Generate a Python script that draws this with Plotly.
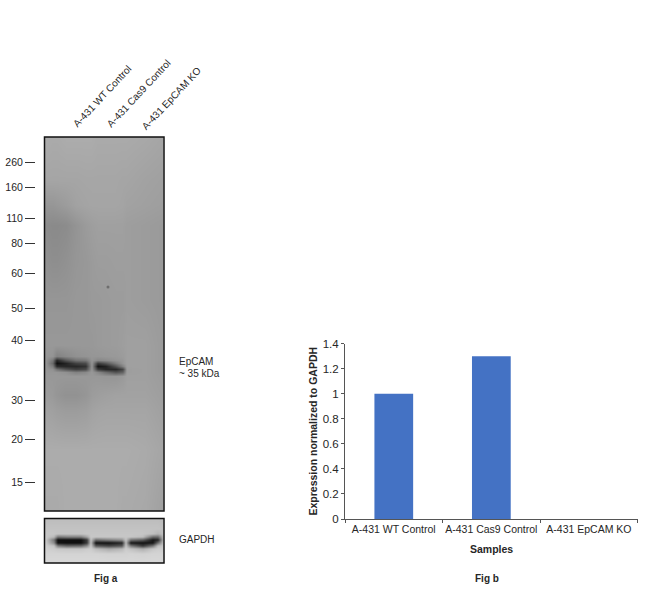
import plotly.graph_objects as go

W, H = 650, 590
FONT = "Liberation Sans"
TXT = "#262626"

# Fig b
samples = ["A-431 WT Control", "A-431 Cas9 Control", "A-431 EpCAM KO"]
expression = [1.0, 1.3, 0.0]
y_ticks = [0, 0.2, 0.4, 0.6, 0.8, 1, 1.2, 1.4]
y_ticktext = ["0", "0.2", "0.4", "0.6", "0.8", "1", "1.2", "1.4"]

# Fig a: marker ladder
ladder_labels = ["260", "160", "110", "80", "60", "50", "40", "30", "20", "15"]
ladder_rows = [162, 187, 218, 243, 273, 308, 340, 400, 439, 482]

# Fig a: main blot grey levels
blot_cols = [45, 52, 56, 65, 75, 85, 91, 97, 105, 115, 122, 126, 145, 163]
blot_rows = [138, 180, 205, 225, 260, 300, 345, 356, 360, 363, 366, 369, 372, 376, 395, 410, 450, 510]
blot_grey = [
    [172, 170, 170, 172, 172, 172, 172, 170, 170, 170, 170, 170, 168, 165],
    [165, 165, 165, 165, 165, 166, 166, 166, 166, 166, 165, 165, 162, 160],
    [150, 150, 152, 156, 162, 164, 165, 165, 165, 165, 164, 162, 160, 158],
    [140, 138, 138, 140, 148, 155, 158, 160, 160, 160, 160, 158, 156, 154],
    [145, 142, 142, 145, 150, 152, 155, 157, 157, 158, 158, 158, 156, 154],
    [150, 150, 150, 150, 152, 152, 154, 154, 155, 156, 156, 158, 156, 154],
    [152, 152, 152, 152, 152, 152, 152, 154, 155, 156, 158, 160, 160, 155],
    [150, 148, 130, 138, 145, 148, 150, 150, 152, 153, 156, 160, 160, 155],
    [150, 120, 40, 85, 115, 120, 148, 135, 140, 148, 152, 160, 160, 155],
    [150, 105, 15, 35, 65, 75, 148, 60, 85, 125, 150, 160, 160, 155],
    [150, 125, 45, 40, 40, 50, 148, 20, 35, 85, 130, 160, 160, 155],
    [150, 145, 115, 85, 65, 75, 150, 60, 40, 40, 70, 158, 160, 155],
    [150, 150, 150, 145, 130, 138, 152, 135, 110, 85, 100, 158, 160, 155],
    [152, 152, 152, 152, 152, 152, 152, 152, 150, 150, 154, 160, 160, 156],
    [156, 154, 150, 146, 146, 150, 156, 158, 160, 162, 162, 162, 162, 158],
    [162, 160, 158, 156, 156, 158, 162, 164, 165, 165, 165, 165, 165, 160],
    [172, 172, 172, 172, 172, 172, 172, 172, 172, 172, 172, 172, 170, 165],
    [170, 170, 170, 172, 172, 172, 172, 172, 172, 172, 170, 170, 168, 160],
]
speck_x = [108]
speck_y = [287]

# Fig a: GAPDH grey levels
gapdh_cols = [45, 53, 57, 66, 80, 86, 90, 95, 108, 121, 125, 130, 142, 152, 157, 163]
gapdh_rows = [520, 528, 533, 536, 539, 542, 545, 548, 553, 562]
gapdh_grey = [
    [190, 190, 190, 190, 190, 190, 190, 190, 190, 190, 190, 190, 190, 190, 190, 188],
    [195, 195, 195, 195, 195, 195, 195, 195, 195, 195, 195, 195, 195, 195, 195, 192],
    [198, 198, 195, 195, 195, 198, 198, 198, 198, 198, 198, 198, 198, 192, 180, 195],
    [200, 185, 120, 130, 130, 165, 200, 198, 198, 198, 198, 198, 190, 110, 110, 195],
    [200, 120, 15, 15, 15, 60, 195, 110, 130, 145, 195, 115, 95, 25, 40, 198],
    [202, 140, 20, 15, 15, 60, 190, 20, 20, 40, 185, 25, 20, 25, 110, 200],
    [205, 195, 125, 100, 105, 140, 200, 90, 70, 90, 195, 120, 60, 120, 190, 202],
    [208, 205, 200, 198, 198, 204, 206, 190, 170, 185, 205, 195, 175, 200, 206, 205],
    [212, 212, 212, 212, 212, 212, 212, 212, 210, 210, 210, 212, 210, 212, 212, 212],
    [216, 216, 216, 216, 216, 216, 216, 216, 216, 216, 216, 216, 216, 216, 216, 214],
]

GREYS = [[0, "rgb(0,0,0)"], [1, "rgb(255,255,255)"]]


def px_x(v):
    return v / W


def px_y(v):
    return 1 - v / H


fig = go.Figure()

fig.add_trace(go.Bar(x=samples, y=expression, marker=dict(color="#4472C4", line_width=0),
                     xaxis="x", yaxis="y", showlegend=False))
fig.add_trace(go.Heatmap(x=blot_cols, y=blot_rows, z=blot_grey, colorscale=GREYS, zmin=0, zmax=255,
                         zsmooth="best", showscale=False, xaxis="x2", yaxis="y2"))
fig.add_trace(go.Scatter(x=speck_x, y=speck_y, mode="markers", showlegend=False,
                         marker=dict(color="#6e6e6e", size=3), xaxis="x2", yaxis="y2"))
fig.add_trace(go.Heatmap(x=gapdh_cols, y=gapdh_rows, z=gapdh_grey, colorscale=GREYS, zmin=0, zmax=255,
                         zsmooth="best", showscale=False, xaxis="x3", yaxis="y3"))

annotations = []


def note(text, x, y, size=10.5, bold=False, angle=0, xanchor="center"):
    annotations.append(dict(
        text=f"<b>{text}</b>" if bold else text, xref="paper", yref="paper",
        x=px_x(x), y=px_y(y), xanchor=xanchor, yanchor="middle", showarrow=False,
        textangle=angle, font=dict(family=FONT, size=size, color=TXT),
    ))


note(samples[0], 101.7, 96, size=10, angle=-47)
note(samples[1], 138.7, 93.7, size=10, angle=-47)
note(samples[2], 171.3, 98.7, size=10, angle=-47)
note("EpCAM", 177, 361, size=10, xanchor="left")
note("~ 35 kDa", 177, 373, size=10, xanchor="left")
note("GAPDH", 177, 539, size=10, xanchor="left")
note("Fig a", 106, 578, size=10, bold=True)
note("Fig b", 487, 578, size=10, bold=True)
note("Samples", 491, 549, size=10.5, bold=True)
note("Expression normalized to GAPDH", 312.5, 431, size=10.5, bold=True, angle=-90)

shapes = [
    dict(type="rect", xref="paper", yref="paper", x0=px_x(44.5), x1=px_x(164), y0=px_y(511), y1=px_y(137),
         line=dict(color="#111111", width=1.5)),
    dict(type="rect", xref="paper", yref="paper", x0=px_x(44.5), x1=px_x(164), y0=px_y(563), y1=px_y(518.5),
         line=dict(color="#111111", width=1.5)),
]

fig.update_layout(
    width=W, height=H, margin=dict(l=0, r=0, t=0, b=0, autoexpand=False),
    paper_bgcolor="white", plot_bgcolor="rgba(0,0,0,0)", bargap=0.603, showlegend=False,
    font=dict(family=FONT, color=TXT),
    annotations=annotations, shapes=shapes,
    xaxis=dict(domain=[px_x(345), px_x(637.7)], anchor="y", type="category", tickson="boundaries",
               tickangle=0, ticks="outside", ticklen=3, tickcolor="#555555", showline=True,
               linecolor="#555555", showgrid=False, tickfont=dict(family=FONT, size=10.5, color=TXT)),
    yaxis=dict(domain=[px_y(519), px_y(343.7)], anchor="x", range=[0, 1.4], tickvals=y_ticks,
               ticktext=y_ticktext, ticks="outside", ticklen=3, tickcolor="#555555", showline=True,
               linecolor="#555555", showgrid=False, zeroline=False,
               tickfont=dict(family=FONT, size=11.5, color=TXT)),
    xaxis2=dict(domain=[px_x(44.5), px_x(164)], anchor="y2", range=[44.5, 164], visible=False),
    yaxis2=dict(domain=[px_y(511), px_y(137)], anchor="free", position=px_x(35), range=[511, 137],
                tickvals=ladder_rows, ticktext=ladder_labels, ticks="outside", ticklen=10, tickwidth=1,
                tickcolor="#333333", showline=False, showgrid=False, zeroline=False,
                tickfont=dict(family=FONT, size=10.5, color=TXT)),
    xaxis3=dict(domain=[px_x(44.5), px_x(164)], anchor="y3", range=[44.5, 164], visible=False),
    yaxis3=dict(domain=[px_y(563), px_y(518.5)], anchor="x3", range=[563, 518.5], visible=False),
)

fig.write_html("out.html", config={"displayModeBar": False},
               post_script="document.body.style.margin='0';document.body.style.overflow='hidden';")
